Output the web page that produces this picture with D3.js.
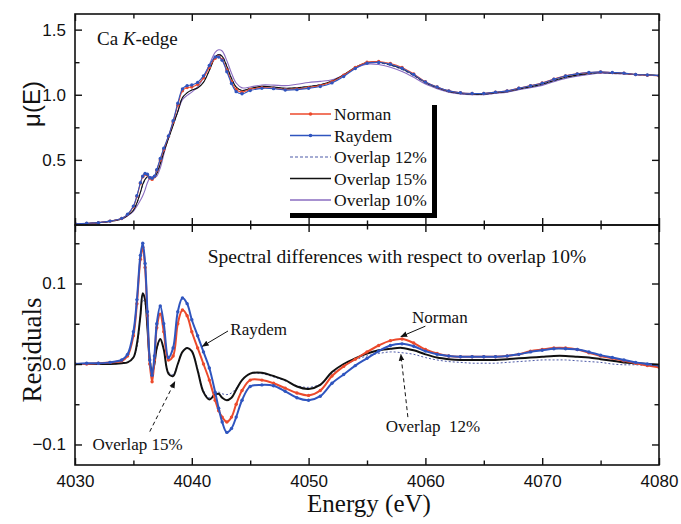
<!DOCTYPE html>
<html><head><meta charset="utf-8">
<script src="https://cdn.jsdelivr.net/npm/d3@7"></script>
<style>body{margin:0;background:#fff}svg{display:block}</style>
</head><body>
<svg id="c" width="681" height="524"></svg>
<script>
const energy = [4030,4031,4032,4033,4034,4034.5,4035,4035.3,4035.6,4035.8,4036.0,4036.2,4036.4,4036.6,4036.8,4037.0,4037.3,4037.6,4038.0,4038.4,4038.8,4039.2,4039.6,4040.0,4040.5,4041.0,4041.5,4042.0,4042.3,4042.6,4043.0,4043.4,4043.8,4044.3,4045,4046,4047,4048,4049,4050,4051,4052,4053,4054,4055,4056,4057,4058,4059,4060,4061,4062,4063,4064,4065,4066,4067,4068,4069,4070,4071,4072,4073,4074,4075,4076,4077,4078,4079,4080];

const muNorman = [0.01,0.012,0.018,0.03,0.05,0.08,0.14,0.22,0.32,0.37,0.39,0.385,0.36,0.35,0.37,0.42,0.50,0.58,0.68,0.79,0.92,1.03,1.055,1.06,1.08,1.13,1.21,1.28,1.295,1.27,1.19,1.10,1.04,1.02,1.04,1.055,1.05,1.04,1.045,1.055,1.07,1.10,1.15,1.21,1.25,1.255,1.24,1.21,1.16,1.10,1.06,1.03,1.015,1.01,1.01,1.02,1.03,1.05,1.07,1.09,1.12,1.145,1.16,1.17,1.175,1.17,1.165,1.155,1.15,1.145];
const muRaydem = [0.01,0.013,0.018,0.03,0.051,0.082,0.145,0.225,0.325,0.375,0.395,0.39,0.365,0.358,0.375,0.425,0.51,0.59,0.683,0.80,0.935,1.045,1.07,1.075,1.095,1.145,1.225,1.29,1.29,1.264,1.177,1.086,1.024,1.008,1.032,1.049,1.047,1.036,1.039,1.049,1.063,1.091,1.14,1.202,1.242,1.248,1.234,1.204,1.156,1.098,1.059,1.03,1.015,1.01,1.01,1.02,1.03,1.05,1.069,1.089,1.119,1.144,1.16,1.171,1.176,1.171,1.166,1.156,1.152,1.147];
const muOverlap12 = [0.01,0.012,0.017,0.028,0.047,0.072,0.113,0.165,0.25,0.305,0.345,0.37,0.365,0.362,0.365,0.393,0.468,0.558,0.665,0.767,0.87,0.978,1.015,1.036,1.054,1.097,1.188,1.289,1.31,1.299,1.224,1.13,1.06,1.033,1.048,1.063,1.058,1.049,1.054,1.065,1.078,1.103,1.15,1.209,1.245,1.245,1.226,1.193,1.146,1.09,1.052,1.023,1.008,1.002,1.002,1.012,1.022,1.041,1.058,1.077,1.105,1.13,1.146,1.159,1.167,1.163,1.16,1.153,1.15,1.147];
const muOverlap15 = [0.01,0.012,0.017,0.028,0.047,0.072,0.113,0.17,0.25,0.313,0.35,0.37,0.365,0.361,0.365,0.395,0.469,0.558,0.663,0.765,0.87,0.978,1.015,1.036,1.052,1.095,1.186,1.287,1.308,1.294,1.217,1.124,1.058,1.033,1.048,1.064,1.059,1.05,1.053,1.063,1.077,1.105,1.153,1.211,1.248,1.249,1.23,1.199,1.151,1.094,1.055,1.026,1.011,1.006,1.006,1.016,1.026,1.045,1.062,1.081,1.11,1.135,1.151,1.164,1.171,1.167,1.163,1.155,1.152,1.148];
const muOverlap10 = [0.01,0.012,0.017,0.028,0.046,0.07,0.105,0.145,0.19,0.225,0.27,0.325,0.36,0.372,0.365,0.375,0.438,0.54,0.675,0.78,0.87,0.963,0.995,1.02,1.06,1.13,1.23,1.325,1.345,1.336,1.262,1.166,1.09,1.053,1.06,1.075,1.074,1.07,1.081,1.094,1.103,1.115,1.153,1.204,1.235,1.232,1.211,1.179,1.134,1.082,1.047,1.02,1.006,1.001,1.001,1.011,1.02,1.038,1.054,1.072,1.10,1.125,1.142,1.156,1.165,1.163,1.161,1.154,1.152,1.149];

const resNorman = [0,0,0.001,0.002,0.004,0.01,0.035,0.075,0.13,0.145,0.12,0.06,0.0,-0.022,0.005,0.045,0.062,0.04,0.005,0.01,0.05,0.067,0.06,0.04,0.02,0.0,-0.02,-0.045,-0.058,-0.066,-0.072,-0.066,-0.05,-0.033,-0.02,-0.02,-0.024,-0.03,-0.036,-0.039,-0.033,-0.015,-0.003,0.006,0.015,0.023,0.029,0.031,0.026,0.018,0.013,0.01,0.009,0.009,0.009,0.009,0.01,0.012,0.016,0.018,0.02,0.02,0.018,0.014,0.01,0.007,0.004,0.001,-0.002,-0.004];
const resRaydem = [0,0.001,0.001,0.002,0.005,0.012,0.04,0.08,0.135,0.15,0.125,0.065,0.005,-0.014,0.01,0.05,0.072,0.05,0.008,0.02,0.065,0.082,0.075,0.055,0.035,0.015,-0.005,-0.035,-0.055,-0.072,-0.085,-0.08,-0.066,-0.045,-0.028,-0.026,-0.027,-0.034,-0.042,-0.045,-0.04,-0.024,-0.013,-0.002,0.007,0.016,0.023,0.025,0.022,0.016,0.012,0.01,0.009,0.009,0.009,0.009,0.01,0.012,0.015,0.017,0.019,0.019,0.018,0.015,0.011,0.008,0.005,0.002,0.0,-0.002];
const resOverlap15 = [0,0,0,0,0.001,0.002,0.008,0.025,0.06,0.088,0.08,0.045,0.005,-0.011,0.0,0.02,0.031,0.018,-0.012,-0.015,0.0,0.015,0.02,0.016,-0.008,-0.035,-0.044,-0.038,-0.037,-0.042,-0.045,-0.042,-0.032,-0.02,-0.012,-0.011,-0.015,-0.02,-0.028,-0.031,-0.026,-0.01,0.0,0.007,0.013,0.017,0.019,0.02,0.017,0.012,0.008,0.006,0.005,0.005,0.005,0.005,0.006,0.007,0.008,0.009,0.01,0.01,0.009,0.008,0.006,0.004,0.002,0.001,0.0,-0.001];
const resOverlap12 = [0,0,0,0,0.001,0.002,0.008,0.02,0.06,0.08,0.075,0.045,0.005,-0.01,0.0,0.018,0.03,0.018,-0.01,-0.013,0.0,0.015,0.02,0.016,-0.006,-0.033,-0.042,-0.036,-0.035,-0.037,-0.038,-0.036,-0.03,-0.02,-0.012,-0.012,-0.016,-0.021,-0.027,-0.029,-0.025,-0.012,-0.003,0.005,0.01,0.013,0.015,0.014,0.012,0.008,0.005,0.003,0.002,0.001,0.001,0.001,0.002,0.003,0.004,0.005,0.005,0.005,0.004,0.003,0.002,0.0,-0.001,-0.001,-0.002,-0.002];

const xTicks = [4030,4040,4050,4060,4070,4080];
const xMinorTicks = [4035,4045,4055,4065,4075];
const topTicks = [0.5,1.0,1.5];
const topMinorTicks = [0.25,0.75,1.25];
const botTicks = [-0.1,0.0,0.1];
const botMinorTicks = [-0.05,0.05,0.15];
const legendLabels = ["Norman","Raydem","Overlap 12%","Overlap 15%","Overlap 10%"];

const RED = "#ec4a2c", BLUE = "#2f55bf", DASHBLUE = "#4d5aa8", PURPLE = "#8a6cc0";

const svg = d3.select("#c");
const L = 75, R = 659, T1 = 14, B1 = 225, B2 = 465;
const x = d3.scaleLinear().domain([4030,4080]).range([L,R]);
const yTop = d3.scaleLinear().domain([0,1.62]).range([B1,T1]);
const yBot = d3.scaleLinear().domain([-0.1255,0.1727]).range([B2,B1]);

const defs = svg.append("defs");
defs.append("clipPath").attr("id","clipTop").append("rect").attr("x",L).attr("y",T1).attr("width",R-L).attr("height",B1-T1);
defs.append("clipPath").attr("id","clipBot").append("rect").attr("x",L).attr("y",B1).attr("width",R-L).attr("height",B2-B1);
defs.append("marker").attr("id","ah").attr("viewBox","0 0 10 10").attr("refX",9).attr("refY",5)
  .attr("markerWidth",7).attr("markerHeight",7).attr("orient","auto-start-reverse").attr("markerUnits","userSpaceOnUse")
  .append("path").attr("d","M0,1 L10,5 L0,9 Z").attr("fill","#111");

function drawSeries(g, yS, vals, color, width, dash, dots){
  const data = energy.map((e,i)=>[e,vals[i]]);
  const line = d3.line().x(d=>x(d[0])).y(d=>yS(d[1])).curve(d3.curveCatmullRom.alpha(0.5));
  g.append("path").datum(data).attr("d",line).attr("fill","none").attr("stroke",color)
    .attr("stroke-width",width).attr("stroke-dasharray",dash||null);
  if(dots){
    g.selectAll(null).data(data).enter().append("circle")
      .attr("cx",d=>x(d[0])).attr("cy",d=>yS(d[1])).attr("r",1.7).attr("fill",color);
  }
}

// top panel
const gTop = svg.append("g").attr("clip-path","url(#clipTop)");
drawSeries(gTop,yTop,muOverlap10,PURPLE,1.1);
drawSeries(gTop,yTop,muOverlap12,DASHBLUE,1,"3,2");
drawSeries(gTop,yTop,muOverlap15,"#111",1.1);
drawSeries(gTop,yTop,muNorman,RED,1.1,null,true);
drawSeries(gTop,yTop,muRaydem,BLUE,1.1,null,true);

// bottom panel
const gBot = svg.append("g").attr("clip-path","url(#clipBot)");
drawSeries(gBot,yBot,resOverlap12,DASHBLUE,1,"2,2");
drawSeries(gBot,yBot,resOverlap15,"#111",2);
drawSeries(gBot,yBot,resNorman,RED,2,null,true);
drawSeries(gBot,yBot,resRaydem,BLUE,2,null,true);

// axes
const tickFont = "'Liberation Sans', Arial, sans-serif";
function styleAxis(g){
  g.select(".domain").remove();
  g.selectAll(".tick line").attr("stroke","#111").attr("stroke-width",1.4);
  g.selectAll("text").attr("font-family",tickFont).attr("font-size",17).attr("fill","#111");
}
function axesFor(yS, top, bottom, major, minor, fmt, showX){
  styleAxis(svg.append("g").attr("transform",`translate(${L},0)`).call(d3.axisLeft(yS).tickValues(major).tickSizeInner(-7).tickSizeOuter(0).tickPadding(9).tickFormat(fmt)));
  styleAxis(svg.append("g").attr("transform",`translate(${L},0)`).call(d3.axisLeft(yS).tickValues(minor).tickSizeInner(-4.5).tickSizeOuter(0).tickFormat("")));
  styleAxis(svg.append("g").attr("transform",`translate(${R},0)`).call(d3.axisRight(yS).tickValues(major).tickSizeInner(-7).tickSizeOuter(0).tickFormat("")));
  styleAxis(svg.append("g").attr("transform",`translate(${R},0)`).call(d3.axisRight(yS).tickValues(minor).tickSizeInner(-4.5).tickSizeOuter(0).tickFormat("")));
  styleAxis(svg.append("g").attr("transform",`translate(0,${top})`).call(d3.axisTop(x).tickValues(xTicks).tickSizeInner(-7).tickSizeOuter(0).tickFormat("")));
  styleAxis(svg.append("g").attr("transform",`translate(0,${top})`).call(d3.axisTop(x).tickValues(xMinorTicks).tickSizeInner(-4.5).tickSizeOuter(0).tickFormat("")));
  styleAxis(svg.append("g").attr("transform",`translate(0,${bottom})`).call(d3.axisBottom(x).tickValues(xTicks).tickSizeInner(-7).tickSizeOuter(0).tickPadding(10).tickFormat(showX?d3.format("d"):"")));
  styleAxis(svg.append("g").attr("transform",`translate(0,${bottom})`).call(d3.axisBottom(x).tickValues(xMinorTicks).tickSizeInner(-4.5).tickSizeOuter(0).tickFormat("")));
  svg.append("rect").attr("x",L).attr("y",top).attr("width",R-L).attr("height",bottom-top)
    .attr("fill","none").attr("stroke","#111").attr("stroke-width",1.6);
}
axesFor(yTop,T1,B1,topTicks,topMinorTicks,d3.format(".1f"),false);
axesFor(yBot,B1,B2,botTicks,botMinorTicks,d3.format(".1f"),true);

// axis labels
const serif = "'Liberation Serif','Times New Roman',serif";
svg.append("text").attr("transform","translate(40,104) rotate(-90)").attr("text-anchor","middle")
  .attr("font-family",tickFont).attr("font-size",24).attr("fill","#111").text("μ(E)");
svg.append("text").attr("transform","translate(41,350) rotate(-90)").attr("text-anchor","middle")
  .attr("font-family",serif).attr("font-size",27).attr("fill","#111").text("Residuals");
svg.append("text").attr("x",369).attr("y",512).attr("text-anchor","middle")
  .attr("font-family",serif).attr("font-size",25).attr("fill","#111").text("Energy (eV)");

// panel titles
const ca = svg.append("text").attr("x",97).attr("y",45).attr("font-family",serif).attr("font-size",19).attr("fill","#111");
ca.append("tspan").text("Ca ");
ca.append("tspan").attr("font-style","italic").text("K");
ca.append("tspan").text("-edge");
svg.append("text").attr("x",397).attr("y",263).attr("text-anchor","middle").attr("font-family",serif)
  .attr("font-size",19.5).attr("fill","#111").text("Spectral differences with respect to overlap 10%");

// legend
const lg = svg.append("g");
lg.append("rect").attr("x",284).attr("y",102).attr("width",149).attr("height",112).attr("fill","#fff");
lg.append("rect").attr("x",432).attr("y",105).attr("width",5).attr("height",113).attr("fill","#000");
lg.append("rect").attr("x",290).attr("y",213).attr("width",147).attr("height",5).attr("fill","#000");
const legendStyles = [
  {c:RED,w:1.4,dash:null,dot:true},
  {c:BLUE,w:1.4,dash:null,dot:true},
  {c:DASHBLUE,w:1.2,dash:"3,2",dot:false},
  {c:"#111",w:1.3,dash:null,dot:false},
  {c:PURPLE,w:1.6,dash:null,dot:false}
];
legendLabels.forEach((lab,i)=>{
  const yy = 114 + i*21.5;
  const s = legendStyles[i];
  lg.append("line").attr("x1",290).attr("x2",331).attr("y1",yy).attr("y2",yy)
    .attr("stroke",s.c).attr("stroke-width",s.w).attr("stroke-dasharray",s.dash);
  if(s.dot) lg.append("circle").attr("cx",310.5).attr("cy",yy).attr("r",1.8).attr("fill",s.c);
  lg.append("text").attr("x",334).attr("y",yy+6).attr("font-family",serif).attr("font-size",17.5)
    .attr("fill","#111").text(lab);
});

// annotations (data coordinates)
const annotations = [
  {text:"Raydem", tx:4043.3, ty:0.036, from:[4043.1,0.041], to:[4040.9,0.022], dash:null},
  {text:"Norman", tx:4058.85, ty:0.051, from:[4060.0,0.047], to:[4057.9,0.034], dash:null},
  {text:"Overlap  12%", tx:4056.6, ty:-0.0845, from:[4058.5,-0.066], to:[4057.9,0.012], dash:"4,3"},
  {text:"Overlap 15%", tx:4031.5, ty:-0.107, from:[4036.4,-0.084], to:[4038.55,-0.022], dash:"4,3"}
];
annotations.forEach(a=>{
  svg.append("line").attr("x1",x(a.from[0])).attr("y1",yBot(a.from[1])).attr("x2",x(a.to[0])).attr("y2",yBot(a.to[1]))
    .attr("stroke","#111").attr("stroke-width",1).attr("stroke-dasharray",a.dash).attr("marker-end","url(#ah)");
  svg.append("text").attr("x",x(a.tx)).attr("y",yBot(a.ty)).attr("font-family",serif).attr("font-size",17)
    .attr("fill","#111").style("white-space","pre").text(a.text);
});
</script>
</body></html>
